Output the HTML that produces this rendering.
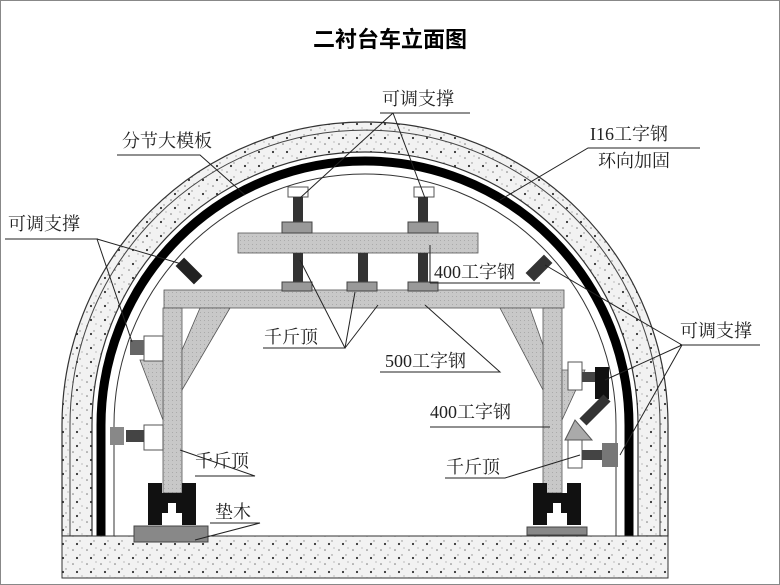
<!DOCTYPE html>
<html><head><meta charset="utf-8"><style>
html,body{margin:0;padding:0;background:#fff;}
svg{display:block;font-family:"Liberation Serif","Noto Serif CJK SC","Noto Sans CJK SC",serif;}
</style></head><body>
<svg width="780" height="585" viewBox="0 0 780 585" xmlns="http://www.w3.org/2000/svg">
<defs>
<pattern id="dots" width="14" height="14" patternUnits="userSpaceOnUse">
<rect width="14" height="14" fill="#f2f2f2"/>
<circle cx="3" cy="4" r="0.8" fill="#777"/><circle cx="10" cy="9" r="0.7" fill="#888"/><circle cx="7" cy="12" r="1.1" fill="#333"/><circle cx="12" cy="2" r="0.6" fill="#999"/>
</pattern>
<pattern id="gr" width="4" height="4" patternUnits="userSpaceOnUse"><rect width="4" height="4" fill="#c8c8c8"/><rect width="1" height="1" fill="#aaa"/></pattern>
</defs>
<rect x="0.5" y="0.5" width="779" height="584" fill="#fff" stroke="#888"/>
<text x="390" y="47" font-size="22" font-weight="bold" text-anchor="middle" font-family="Liberation Sans,'Noto Sans CJK SC',sans-serif">二衬台车立面图</text>
<path d="M62 536 L62 425 A303 303 0 0 1 668 425 L668 536 L638 536 L638 425 A273 273 0 0 0 92 425 L92 536 Z" fill="url(#dots)" stroke="#333" stroke-width="1.2"/>
<path d="M70 536 L70 425 A295 295 0 0 1 660 425 L660 536" fill="none" stroke="#444" stroke-width="1"/>
<path d="M101 536 L101 425 A264 264 0 0 1 629 425 L629 536" fill="none" stroke="#000" stroke-width="9"/>
<path d="M114 536 L114 425 A251 251 0 0 1 616 425 L616 536" fill="none" stroke="#333" stroke-width="1"/>
<rect x="62" y="536" width="606" height="42" fill="url(#dots)" stroke="#333"/>
<g fill="url(#gr)" stroke="#555" stroke-width="0.8">
<rect x="238" y="233" width="240" height="20"/>
<rect x="164" y="290" width="400" height="18"/>
<rect x="163" y="308" width="19" height="185"/>
<rect x="543" y="308" width="19" height="185"/>
<polygon points="200,308 230,308 182,390 182,350"/>
<polygon points="500,308 530,308 543,345 543,390"/>
<polygon points="140,360 163,360 163,420"/>
<polygon points="585,370 562,370 562,420"/>
</g>
<g>
<rect x="288" y="187" width="20" height="10" fill="#fff" stroke="#555"/>
<rect x="293" y="197" width="10" height="25" fill="#333"/>
<rect x="282" y="222" width="30" height="11" fill="#999" stroke="#444"/>
<rect x="414" y="187" width="20" height="10" fill="#fff" stroke="#555"/>
<rect x="418" y="197" width="10" height="25" fill="#333"/>
<rect x="408" y="222" width="30" height="11" fill="#999" stroke="#444"/>
<rect x="293" y="253" width="10" height="30" fill="#333"/>
<rect x="282" y="282" width="30" height="9" fill="#999" stroke="#444"/>
<rect x="358" y="253" width="10" height="30" fill="#333"/>
<rect x="347" y="282" width="30" height="9" fill="#999" stroke="#444"/>
<rect x="418" y="253" width="10" height="30" fill="#333"/>
<rect x="408" y="282" width="30" height="9" fill="#999" stroke="#444"/>
<rect x="183" y="258" width="12" height="26" fill="#222" transform="rotate(-45 189 271)"/>
<rect x="533" y="255" width="12" height="26" fill="#333" transform="rotate(45 539 268)"/>
<rect x="144" y="336" width="19" height="25" fill="#fff" stroke="#555"/>
<rect x="130" y="340" width="14" height="15" fill="#666"/>
<rect x="144" y="425" width="19" height="25" fill="#fff" stroke="#555"/>
<rect x="126" y="430" width="18" height="12" fill="#444"/>
<rect x="110" y="427" width="14" height="18" fill="#888"/>
<rect x="568" y="362" width="14" height="28" fill="#fff" stroke="#555"/>
<rect x="582" y="372" width="14" height="10" fill="#444"/>
<rect x="595" y="367" width="14" height="32" fill="#111"/>
<rect x="568" y="440" width="14" height="28" fill="#fff" stroke="#555"/>
<rect x="582" y="450" width="20" height="10" fill="#444"/>
<rect x="602" y="443" width="16" height="24" fill="#777"/>
<rect x="590" y="393" width="10" height="34" fill="#333" transform="rotate(45 595 410)"/>
<polygon points="565,440 592,440 575,420" fill="#aaa" stroke="#555"/>
<path d="M148 483 h14 v10 h20 v-10 h14 v42 h-14 v-12 h-6 v-10 h-8 v10 h-6 v12 h-14 z" fill="#111"/>
<path d="M533 483 h14 v10 h20 v-10 h14 v42 h-14 v-12 h-6 v-10 h-8 v10 h-6 v12 h-14 z" fill="#111"/>
<rect x="134" y="526" width="74" height="16" fill="#888" stroke="#444"/>
<rect x="527" y="527" width="60" height="8" fill="#888" stroke="#444"/>
</g>
<g stroke="#222" stroke-width="1" fill="none">
<polyline points="117,155 200,155 245,195"/>
<polyline points="5,239 98,239"/>
<line x1="97" y1="239" x2="185" y2="265"/>
<line x1="97" y1="239" x2="132" y2="342"/>
<polyline points="380,113 470,113"/>
<line x1="393" y1="113" x2="300" y2="198"/>
<line x1="393" y1="113" x2="425" y2="198"/>
<polyline points="700,148 588,148 500,200"/>
<polyline points="430,283 540,283"/>
<line x1="430" y1="283" x2="430" y2="245"/>
<polyline points="263,348 345,348 300,260"/>
<line x1="345" y1="348" x2="355" y2="292"/>
<line x1="345" y1="348" x2="378" y2="305"/>
<polyline points="380,372 500,372 425,305"/>
<polyline points="430,427 550,427"/>
<polyline points="680,345 760,345"/>
<line x1="682" y1="345" x2="545" y2="265"/>
<line x1="682" y1="345" x2="605" y2="380"/>
<line x1="682" y1="345" x2="620" y2="455"/>
<polyline points="195,476 255,476 180,450"/>
<polyline points="445,478 505,478 580,455"/>
<polyline points="210,523 260,523 195,540"/>
</g>
<g font-size="18" fill="#222">
<text x="122" y="147">分节大模板</text>
<text x="8" y="230">可调支撑</text>
<text x="382" y="105">可调支撑</text>
<text x="590" y="140">I16工字钢</text>
<text x="598" y="167">环向加固</text>
<text x="434" y="278">400工字钢</text>
<text x="264" y="343">千斤顶</text>
<text x="385" y="367">500工字钢</text>
<text x="680" y="337">可调支撑</text>
<text x="430" y="418">400工字钢</text>
<text x="195" y="467">千斤顶</text>
<text x="446" y="473">千斤顶</text>
<text x="215" y="518">垫木</text>
</g>
</svg>
</body></html>
